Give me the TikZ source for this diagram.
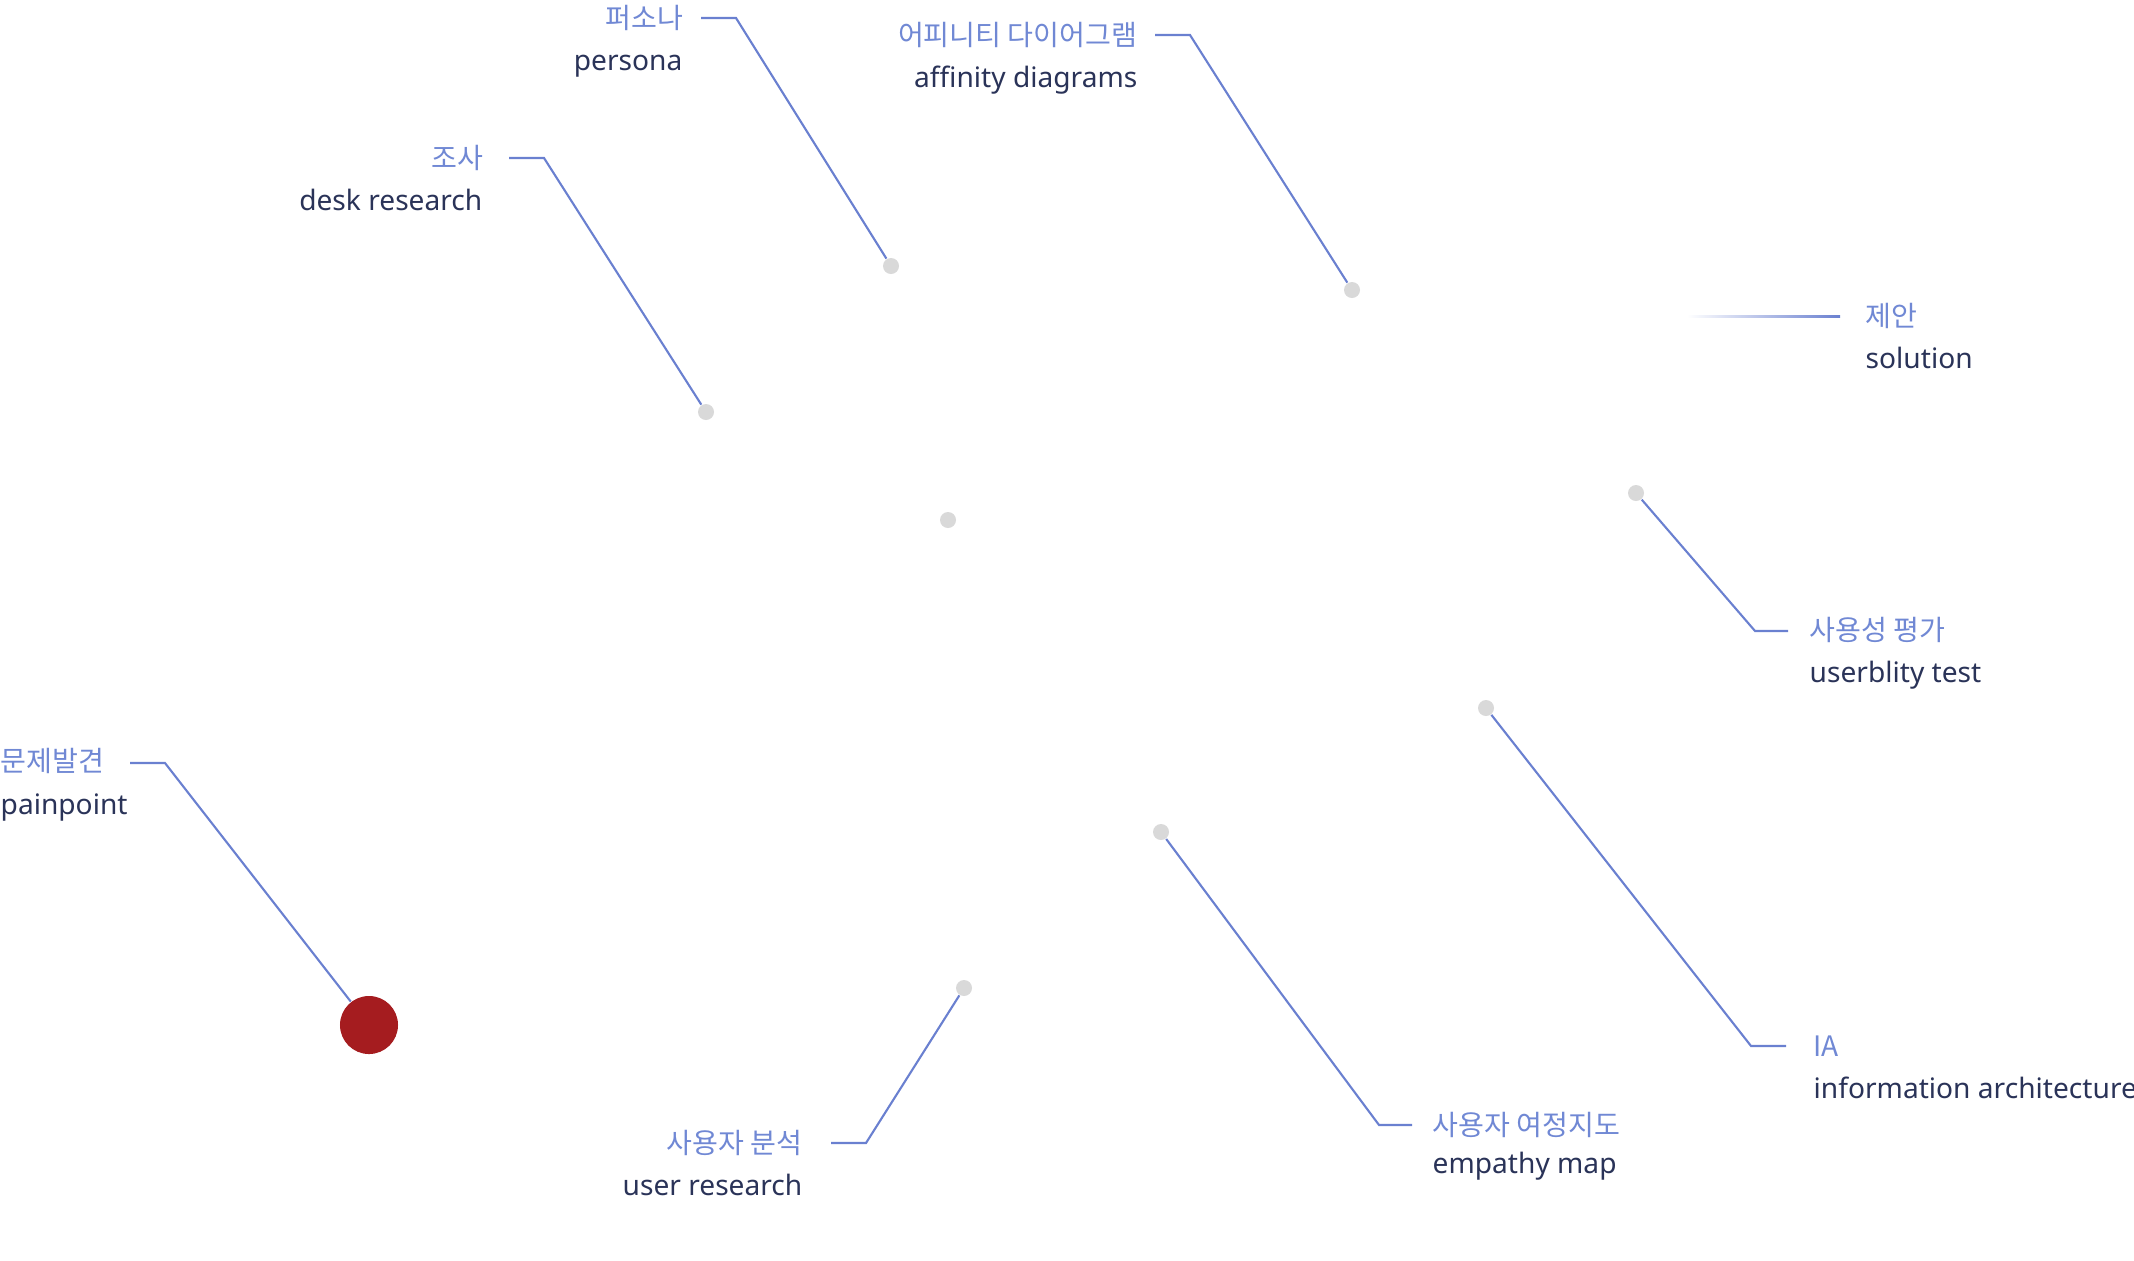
\documentclass[tikz,border=0pt]{standalone}
\usepackage{fontspec}
\setmainfont{Noto Sans}
\newfontfamily\krfont{Noto Sans CJK KR}
\definecolor{krblue}{HTML}{7088D4}
\definecolor{lineblue}{HTML}{6A80D0}
\definecolor{navy}{HTML}{2A3358}
\definecolor{dotgray}{HTML}{D9D9D9}
\definecolor{painred}{HTML}{A51C1F}
\begin{document}
\begin{tikzpicture}[x=0.01cm,y=-0.01cm,
   kr/.style={font=\krfont\fontsize{8}{10}\selectfont, text=krblue, inner sep=0pt},
   en/.style={font=\fontsize{8}{10}\selectfont, text=navy, inner sep=0pt},
   dot/.style={circle, fill=dotgray, inner sep=0pt, minimum size=0.16cm},
   lead/.style={draw=lineblue, line width=0.6pt}]
   \useasboundingbox (0,0) rectangle (2134,1260);
   % points on the map
   \node[circle, fill=painred, inner sep=0pt, minimum size=0.58cm] (pain) at (369,1025) {};
   \node[dot] (desk) at (706,412) {};
   \node[dot] (pers) at (891,266) {};
   \node[dot] (affin) at (1352,290) {};
   \node[dot] (mid) at (948,520) {};
   \node[dot] (usab) at (1636,493) {};
   \node[dot] (ia) at (1486,708) {};
   \node[dot] (empat) at (1161,832) {};
   \node[dot] (user) at (964,988) {};
   % labels
   \node[kr, anchor=west] (krpain) at (0,761) {문제발견};
   \node[en, anchor=base west] (enpain) at (0,814) {painpoint};
   \node[kr, anchor=east] (krdesk) at (484,158) {조사};
   \node[en, anchor=base east] (endesk) at (483,210) {desk research};
   \node[kr, anchor=east] (krpers) at (684,18) {퍼소나};
   \node[en, anchor=base east] (enpers) at (683,70) {persona};
   \node[kr, anchor=east] (kraffin) at (1138,35) {어피니티 다이어그램};
   \node[en, anchor=base east] (enaffin) at (1138,87) {affinity diagrams};
   \node[kr, anchor=west] (krsol) at (1865,316) {제안};
   \node[en, anchor=base west] (ensol) at (1865,368) {solution};
   \node[kr, anchor=west] (krusab) at (1809,630) {사용성 평가};
   \node[en, anchor=base west] (enusab) at (1809,682) {userblity test};
   \node[kr, anchor=west] (kria) at (1813,1046) {IA};
   \node[en, anchor=base west] (enia) at (1813,1098) {information architecture};
   \node[kr, anchor=west] (krempat) at (1432,1125) {사용자 여정지도};
   \node[en, anchor=base west] (enempat) at (1432,1173) {empathy map};
   \node[kr, anchor=east] (kruser) at (803,1143) {사용자 분석};
   \node[en, anchor=base east] (enuser) at (803,1195) {user research};
   % leaders
   \draw[lead] (130,763) -- (165,763) -- (pain);
   \draw[lead] (509,158) -- (544,158) -- (desk);
   \draw[lead] (701,18) -- (736,18) -- (pers);
   \draw[lead] (1155,35) -- (1190,35) -- (affin);
   \draw[lead] (1788,631) -- (1755,631) -- (usab);
   \draw[lead] (1786,1046) -- (1751,1046) -- (ia);
   \draw[lead] (1412,1125) -- (1379,1125) -- (empat);
   \draw[lead] (831,1143) -- (866,1143) -- (user);
   \shade[left color=white, right color=lineblue] (1687,315) rectangle (1840,317);
\end{tikzpicture}
\end{document}
